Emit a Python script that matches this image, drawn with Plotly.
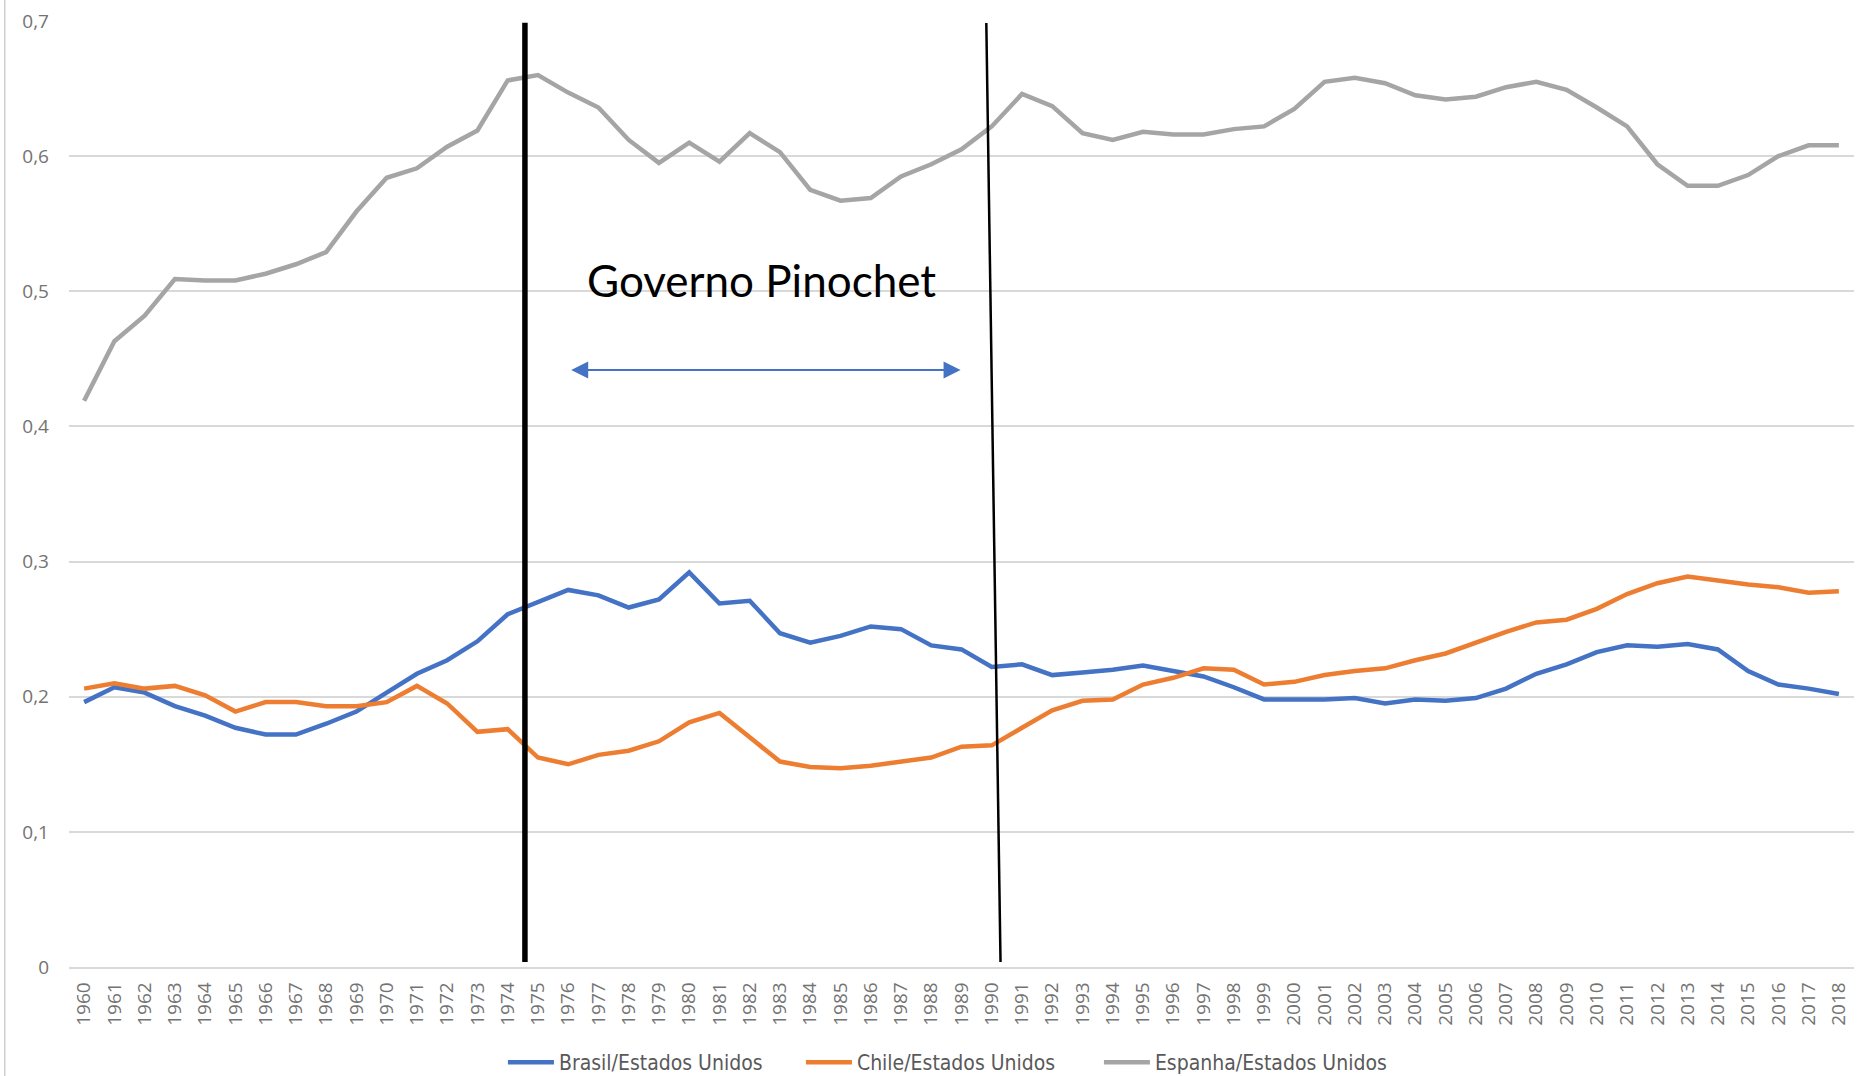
import plotly.graph_objects as go

years = list(range(1960, 2019))

brasil = [0.196, 0.207, 0.203, 0.193, 0.186, 0.177, 0.172, 0.172, 0.180, 0.189,
          0.203, 0.217, 0.227, 0.241, 0.261, 0.270, 0.279, 0.275, 0.266, 0.272,
          0.292, 0.269, 0.271, 0.247, 0.240, 0.245, 0.252, 0.250, 0.238, 0.235,
          0.222, 0.224, 0.216, 0.218, 0.220, 0.223, 0.219, 0.215, 0.207, 0.198,
          0.198, 0.198, 0.199, 0.195, 0.198, 0.197, 0.199, 0.206, 0.217, 0.224,
          0.233, 0.238, 0.237, 0.239, 0.235, 0.219, 0.209, 0.206, 0.202]

chile = [0.206, 0.210, 0.206, 0.208, 0.201, 0.189, 0.196, 0.196, 0.193, 0.193,
         0.196, 0.208, 0.195, 0.174, 0.176, 0.155, 0.150, 0.157, 0.160, 0.167,
         0.181, 0.188, 0.170, 0.152, 0.148, 0.147, 0.149, 0.152, 0.155, 0.163,
         0.164, 0.177, 0.190, 0.197, 0.198, 0.209, 0.214, 0.221, 0.220, 0.209,
         0.211, 0.216, 0.219, 0.221, 0.227, 0.232, 0.240, 0.248, 0.255, 0.257,
         0.265, 0.276, 0.284, 0.289, 0.286, 0.283, 0.281, 0.277, 0.278]

espanha = [0.419, 0.463, 0.482, 0.509, 0.508, 0.508, 0.513, 0.520, 0.529, 0.559,
           0.584, 0.591, 0.607, 0.619, 0.656, 0.660, 0.647, 0.636, 0.612, 0.595,
           0.610, 0.596, 0.617, 0.603, 0.575, 0.567, 0.569, 0.585, 0.594, 0.605,
           0.622, 0.646, 0.637, 0.617, 0.612, 0.618, 0.616, 0.616, 0.620, 0.622,
           0.635, 0.655, 0.658, 0.654, 0.645, 0.642, 0.644, 0.651, 0.655, 0.649,
           0.636, 0.622, 0.594, 0.578, 0.578, 0.586, 0.600, 0.608, 0.608]

series_names = ["Brasil/Estados Unidos", "Chile/Estados Unidos", "Espanha/Estados Unidos"]
series_colors = ["#4472C4", "#ED7D31", "#A5A5A5"]

y_tickvals = [0, 0.1, 0.2, 0.3, 0.4, 0.5, 0.6, 0.7]
y_ticktext = ["0", "0,1", "0,2", "0,3", "0,4", "0,5", "0,6", "0,7"]
x_ticktext = [str(y) for y in years]

annotation_text = "Governo Pinochet"

fig = go.Figure()
for name, vals, col in zip(series_names, [brasil, chile, espanha], series_colors):
    fig.add_trace(go.Scatter(x=years, y=vals, mode="lines", name=name,
                             line=dict(color=col, width=4.5)))

tick_font = dict(family="Open Sans", size=19, color="#737373")

fig.update_layout(
    width=1857, height=1076,
    margin=dict(l=69, r=3, t=21, b=109, autoexpand=False),
    paper_bgcolor="white", plot_bgcolor="white",
    showlegend=True,
    legend=dict(orientation="h", x=0.2431, xanchor="left", y=-0.1011, yanchor="middle",
                itemwidth=46, entrywidth=237, entrywidthmode="pixels",
                font=dict(family="Liberation Sans Narrow, DejaVu Sans Condensed, sans-serif",
                          size=21, color="#595959"),
                bgcolor="rgba(0,0,0,0)"),
    xaxis=dict(range=[1959.5, 2018.5], tickvals=years, ticktext=x_ticktext, tickangle=-90,
               showgrid=False, zeroline=False, showline=True, linecolor="#d9d9d9", linewidth=1.5,
               ticks="", tickfont=tick_font, ticklabelstandoff=6, automargin=False),
    yaxis=dict(range=[0, 0.7], tickvals=y_tickvals, ticktext=y_ticktext,
               showgrid=True, gridcolor="#d9d9d9", gridwidth=1.5, zeroline=False,
               showline=False, ticks="", tickfont=tick_font, ticklabelstandoff=19,
               automargin=False),
)

# Vertical marker lines
fig.add_shape(type="line", xref="x", yref="y", x0=1974.57, x1=1974.57, y0=0.0037, y1=0.6987,
              line=dict(color="black", width=5.5))
fig.add_shape(type="line", xref="x", yref="y", x0=1989.82, x1=1990.29, y0=0.6985, y1=0.0037,
              line=dict(color="black", width=2.5))
# left chart border
fig.add_shape(type="line", xref="paper", yref="paper", x0=-0.036, x1=-0.036, y0=-0.2, y1=1.1,
              line=dict(color="#d0d0d0", width=1.5))

# double-headed arrow
fig.add_annotation(x=1988.97, y=0.4418, ax=1976.05, ay=0.4418, xref="x", yref="y",
                   axref="x", ayref="y", text="", showarrow=True, arrowside="end+start",
                   arrowhead=2, startarrowhead=2, arrowsize=1.7, startarrowsize=1.7,
                   arrowwidth=2, arrowcolor="#4472C4")

fig.add_annotation(x=1982.4, y=0.508, xref="x", yref="y", text=annotation_text,
                   showarrow=False, font=dict(family="Lato", size=44, color="black"),
                   xanchor="center", yanchor="middle")

fig.write_html("out.html", config={"displayModeBar": False},
               post_script="document.body.style.margin='0';document.body.style.overflow='hidden';")
